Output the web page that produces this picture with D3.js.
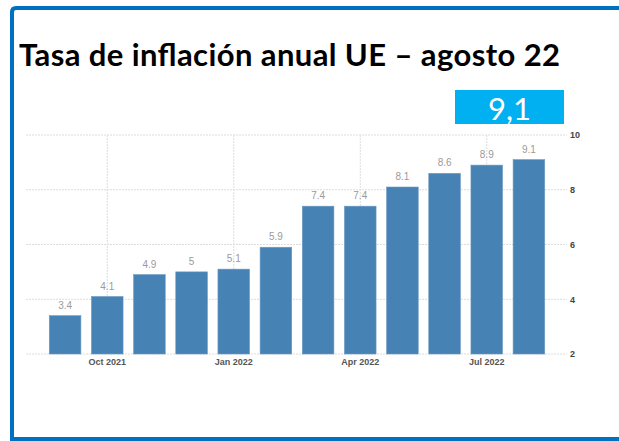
<!DOCTYPE html>
<html>
<head>
<meta charset="utf-8">
<script src="https://cdn.jsdelivr.net/npm/d3@7"></script>
<style>
  body { margin: 0; background: #fff; }
</style>
</head>
<body>
<div id="canvas"></div>
<script>
"use strict"

/* data */
let months = ["Sep 2021", "Oct 2021", "Nov 2021", "Dec 2021", "Jan 2022", "Feb 2022",
              "Mar 2022", "Apr 2022", "May 2022", "Jun 2022", "Jul 2022", "Aug 2022"];
let values = [3.4, 4.1, 4.9, 5, 5.1, 5.9, 7.4, 7.4, 8.1, 8.6, 8.9, 9.1];
let xTickLabels = ["Oct 2021", "Jan 2022", "Apr 2022", "Jul 2022"];
let yTicks = [2, 4, 6, 8, 10];
let title = "Tasa de inflación anual UE – agosto 22";
let badgeText = "9,1";

let svgWidth = 619;
let svgHeight = 441;

let svg = d3.select("#canvas")
    .append("svg")
    .attr("width", svgWidth)
    .attr("height", svgHeight)
    .style("display", "block");

svg.append("rect")
    .attr("width", svgWidth)
    .attr("height", svgHeight)
    .attr("fill", "#fff");

/* blue frame, open on the right */
svg.append("path")
    .attr("d", "M619,8 L16,8 Q12,8 12,12 L12,439 L619,439")
    .attr("fill", "none")
    .attr("stroke", "#0070c0")
    .attr("stroke-width", 4);

/* title */
svg.append("text")
    .attr("x", 19)
    .attr("y", 66)
    .attr("font-family", "Lato, sans-serif")
    .attr("font-weight", "bold")
    .attr("font-size", 31)
    .attr("textLength", 541)
    .attr("lengthAdjust", "spacing")
    .attr("fill", "#000")
    .text(title);

/* latest value badge */
svg.append("rect")
    .attr("x", 455)
    .attr("y", 90)
    .attr("width", 109)
    .attr("height", 34)
    .attr("fill", "#00b0f0");

svg.append("text")
    .attr("x", 509.5)
    .attr("y", 120)
    .attr("text-anchor", "middle")
    .attr("font-family", "Lato, sans-serif")
    .attr("font-size", 31)
    .attr("fill", "#fff")
    .text(badgeText);

/* scales */
let xScale = d3.scaleBand()
    .domain(months)
    .range([44, 550])
    .paddingInner(0.25)
    .paddingOuter(0.125);

let yScale = d3.scaleLinear()
    .domain([2, 10])
    .range([354, 135]);

let gridLeft = 26;
let gridRight = 567;

/* horizontal grid */
svg.append("g")
    .selectAll("line")
    .data(yTicks)
    .join("line")
    .attr("x1", gridLeft)
    .attr("x2", gridRight)
    .attr("y1", d => yScale(d))
    .attr("y2", d => yScale(d))
    .attr("stroke", "#dcdcdc")
    .attr("stroke-dasharray", "2,1");

/* vertical grid at labelled months */
svg.append("g")
    .selectAll("line")
    .data(xTickLabels)
    .join("line")
    .attr("x1", d => xScale(d) + xScale.bandwidth() / 2)
    .attr("x2", d => xScale(d) + xScale.bandwidth() / 2)
    .attr("y1", yScale(10))
    .attr("y2", yScale(2))
    .attr("stroke", "#dcdcdc")
    .attr("stroke-dasharray", "2,1");

/* bars */
svg.append("g")
    .selectAll("rect")
    .data(values)
    .join("rect")
    .attr("x", (d, i) => xScale(months[i]))
    .attr("y", d => yScale(d))
    .attr("width", xScale.bandwidth())
    .attr("height", d => yScale(2) - yScale(d))
    .attr("fill", "#4682b4")
    .attr("stroke", "#6b9ac4")
    .attr("stroke-width", 0.6);

/* value labels */
svg.append("g")
    .selectAll("text")
    .data(values)
    .join("text")
    .attr("x", (d, i) => xScale(months[i]) + xScale.bandwidth() / 2)
    .attr("y", d => yScale(d) - 7)
    .attr("text-anchor", "middle")
    .attr("font-family", "Liberation Sans, Arial, sans-serif")
    .attr("font-size", 10)
    .attr("fill", "#9a9a9a")
    .text(d => String(d));

/* x axis */
let xAxis = d3.axisBottom(xScale)
    .tickValues(xTickLabels)
    .tickSize(0)
    .tickPadding(5);

let gx = svg.append("g")
    .attr("transform", "translate(0," + 354 + ")")
    .call(xAxis);
gx.select(".domain").remove();
gx.selectAll("text")
    .attr("font-family", "Liberation Sans, Arial, sans-serif")
    .attr("font-size", 9)
    .attr("font-weight", "bold")
    .attr("fill", "#555");

/* y axis on the right */
let yAxis = d3.axisRight(yScale)
    .tickValues(yTicks)
    .tickSize(0)
    .tickPadding(3);

let gy = svg.append("g")
    .attr("transform", "translate(" + gridRight + ",0)")
    .call(yAxis);
gy.select(".domain").remove();
gy.selectAll("text")
    .attr("font-family", "Liberation Sans, Arial, sans-serif")
    .attr("font-size", 9)
    .attr("font-weight", "bold")
    .attr("fill", "#444");
</script>
</body>
</html>
